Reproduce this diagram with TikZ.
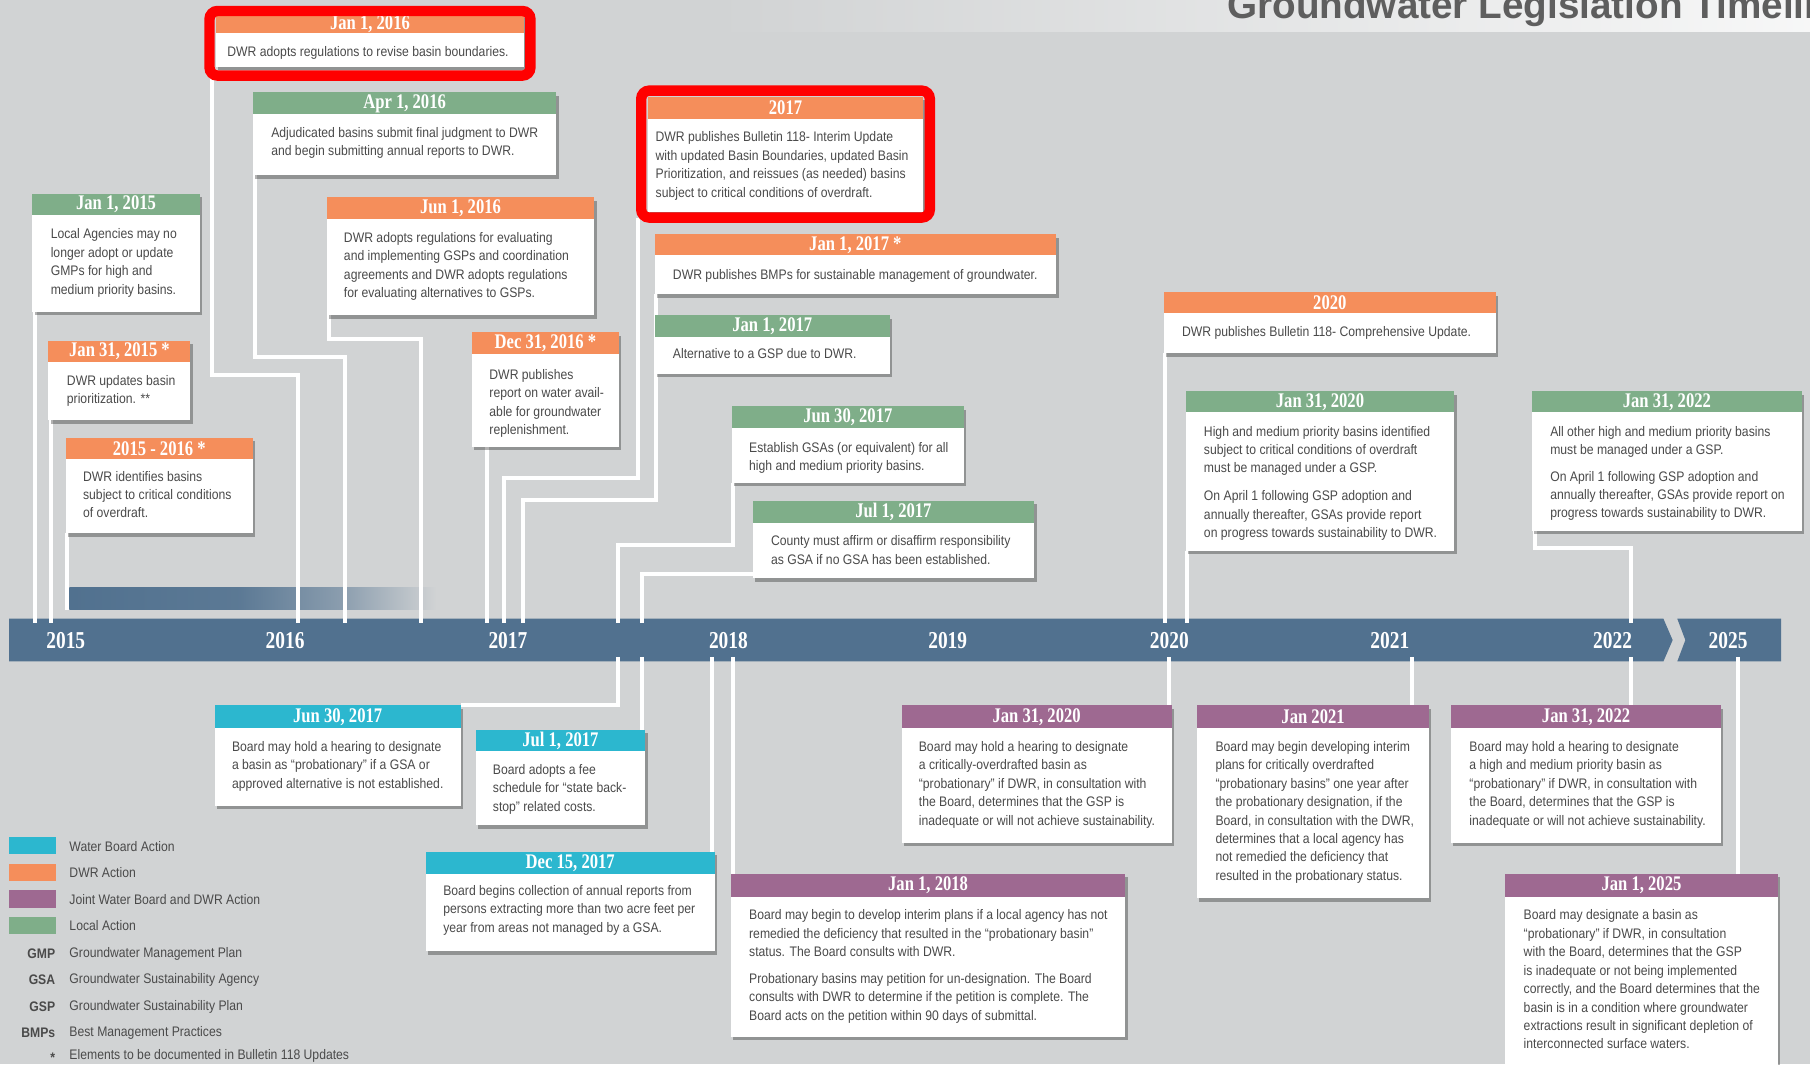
\documentclass[tikz,border=0pt]{standalone}
\usepackage{fontspec}
\usetikzlibrary{shadows}
\newfontfamily\bodyfam{Liberation Sans}[FakeStretch=0.88]
\newfontfamily\headfam{Liberation Serif}[FakeStretch=0.8]
\newfontfamily\titlefam{Liberation Sans}
\definecolor{bgc}{HTML}{D1D3D4}
\definecolor{orng}{HTML}{F58E5B}
\definecolor{grn}{HTML}{7FAE89}
\definecolor{cyn}{HTML}{2CB7CF}
\definecolor{prp}{HTML}{9E6991}
\definecolor{barc}{HTML}{51718F}
\definecolor{txtc}{HTML}{4A4A4A}
\definecolor{ttl}{HTML}{5E5E5E}
\pgfdeclarehorizontalshading{fadebar}{100bp}{color(0bp)=(barc); color(25bp)=(barc); color(48bp)=(barc!92!bgc); color(62bp)=(barc!55!bgc); color(75bp)=(bgc); color(100bp)=(bgc)}
\pgfdeclarelayer{bgl}\pgfdeclarelayer{barl}\pgfdeclarelayer{linel}
\pgfsetlayers{bgl,barl,linel,main}
\tikzset{
 evbody/.style={anchor=north west, fill=white, inner sep=0pt, outer sep=0pt, drop shadow={shadow xshift=2pt, shadow yshift=-3pt, fill=black, opacity=0.3}},
 evhead/.style={anchor=north west, inner sep=0pt, outer sep=0pt, text=white, font=\headfam\bfseries\fontsize{18}{20}\selectfont},
 bodytxt/.style={anchor=north west, inner sep=0pt, outer sep=0pt, align=left, text=txtc, font=\bodyfam\fontsize{12}{16}\selectfont},
 conn/.style={draw=white, line width=3.5pt},
 yearlbl/.style={text=white, font=\headfam\bfseries\fontsize{21}{24}\selectfont, inner sep=0pt},
 redframe/.style={draw=red, line width=9pt, rounded corners=7pt, inner sep=0pt, outer sep=0pt, anchor=north west},
 swatch/.style={anchor=north west, minimum width=40pt, minimum height=15pt, inner sep=0pt},
 legtxt/.style={anchor=west, inner sep=0pt, text=txtc, font=\bodyfam\fontsize{12}{14}\selectfont},
 legab/.style={anchor=east, inner sep=0pt, text=txtc, font=\bodyfam\bfseries\fontsize{12}{14}\selectfont},
}
\newcommand\evbox[8]{%
  \node[evbody, minimum width={(#5-#3)*1pt}, minimum height={(#7-#4)*1pt}] (#1) at (#3,#4) {};
  \node[evhead, fill=#2, minimum width={(#5-#3)*1pt}, minimum height={(#6-#4)*1pt}] (#1h) at (#3,#4) {#8};
}
\begin{document}
\begin{tikzpicture}[x=1pt,y=-1pt]
\useasboundingbox (0,0) rectangle (1568,922);
\begin{pgfonlayer}{bgl}
\fill[bgc] (0,0) rectangle (1568,922);
\shade[left color=bgc, right color=white!82!bgc] (620,0) rectangle (1568,27);
\node[anchor=base west, inner sep=0pt, text=ttl, font=\titlefam\bfseries\fontsize{33.5}{36}\selectfont] (title) at (1063,16) {Groundwater Legislation Timeline};
\end{pgfonlayer}

% timeline bar
\begin{pgfonlayer}{barl}
\fill[barc] (8,536) -- (1441,536) -- (1449,554.5) -- (1441,573) -- (8,573) -- cycle;
\fill[barc] (1453,536) -- (1543,536) -- (1543,573) -- (1453,573) -- (1460,554.5) -- cycle;
\node[anchor=north west, minimum width=318pt, minimum height=19pt, inner sep=0pt, shade, shading=fadebar] (gbar) at (60,509) {};
\end{pgfonlayer}
\coordinate (bartop) at (0,540);
\coordinate (barbot) at (0,569);
\foreach \yr/\xx in {2015/57,2016/247,2017/440,2018/631,2019/821,2020/1013,2021/1204,2022/1397,2025/1497}
  \node[yearlbl] (y\yr) at (\xx,555) {\yr};

% upper boxes
\evbox{b16a}{orng}{187}{13}{454}{29}{58}{Jan 1, 2016}
\node[bodytxt] (b16at) at (197,40) {DWR adopts regulations to revise basin boundaries.};
\evbox{b16b}{grn}{219}{80}{482}{99}{152}{Apr 1, 2016}
\node[bodytxt] (b16bt) at (235,110) {Adjudicated basins submit final judgment to DWR\\and begin submitting annual reports to DWR.};
\evbox{b15a}{grn}{28}{168}{173}{186}{270}{Jan 1, 2015}
\node[bodytxt] (b15at) at (44,198) {Local Agencies may no\\longer adopt or update\\GMPs for high and\\medium priority basins.};
\evbox{b16c}{orng}{283}{171}{515}{190}{273}{Jun 1, 2016}
\node[bodytxt] (b16ct) at (298,201) {DWR adopts regulations for evaluating\\and implementing GSPs and coordination\\agreements and DWR adopts regulations\\for evaluating alternatives to GSPs.};
\evbox{b15b}{orng}{42}{295}{165}{314}{364}{Jan 31, 2015 *}
\node[bodytxt] (b15bt) at (58,325) {DWR updates basin\\prioritization. **};
\evbox{b15c}{orng}{57}{379}{219}{398}{462}{2015 - 2016 *}
\node[bodytxt] (b15ct) at (72,408) {DWR identifies basins\\subject to critical conditions\\of overdraft.};
\evbox{b16d}{orng}{409}{288}{536}{307}{387}{Dec 31, 2016 *}
\node[bodytxt] (b16dt) at (424,320) {DWR publishes\\report on water avail-\\able for groundwater\\replenishment.};
\evbox{b17a}{orng}{561}{84}{800}{103}{184}{2017}
\node[bodytxt] (b17at) at (568,114) {DWR publishes Bulletin 118- Interim Update\\with updated Basin Boundaries, updated Basin\\Prioritization, and reissues (as needed) basins\\subject to critical conditions of overdraft.};
\evbox{b17b}{orng}{567}{203}{915}{221}{255}{Jan 1, 2017 *}
\node[bodytxt] (b17bt) at (583,233) {DWR publishes BMPs for sustainable management of groundwater.};
\evbox{b17c}{grn}{567}{273}{771}{292}{324}{Jan 1, 2017}
\node[bodytxt] (b17ct) at (583,302) {Alternative to a GSP due to DWR.};
\evbox{b17d}{grn}{634}{352}{835}{371}{418}{Jun 30, 2017}
\node[bodytxt] (b17dt) at (649,383) {Establish GSAs (or equivalent) for all\\high and medium priority basins.};
\evbox{b17e}{grn}{652}{434}{896}{453}{501}{Jul 1, 2017}
\node[bodytxt] (b17et) at (668,464) {County must affirm or disaffirm responsibility\\as GSA if no GSA has been established.};
\evbox{b20a}{orng}{1008}{253}{1296}{271}{306}{2020}
\node[bodytxt] (b20at) at (1024,283) {DWR publishes Bulletin 118- Comprehensive Update.};
\evbox{b20b}{grn}{1027}{339}{1260}{357}{477}{Jan 31, 2020}
\node[bodytxt] (b20bt) at (1043,369) {High and medium priority basins identified\\subject to critical conditions of overdraft\\must be managed under a GSP.\\[8pt]On April 1 following GSP adoption and\\annually thereafter, GSAs provide report\\on progress towards sustainability to DWR.};
\evbox{b22a}{grn}{1327}{339}{1561}{357}{460}{Jan 31, 2022}
\node[bodytxt] (b22at) at (1343,369) {All other high and medium priority basins\\must be managed under a GSP.\\[7pt]On April 1 following GSP adoption and\\annually thereafter, GSAs provide report on\\progress towards sustainability to DWR.};

% lower boxes
\evbox{w17a}{cyn}{186}{611}{399}{631}{698}{Jun 30, 2017}
\node[bodytxt] (w17at) at (201,642) {Board may hold a hearing to designate\\a basin as “probationary” if a GSA or\\approved alternative is not established.};
\evbox{w17b}{cyn}{412}{632}{559}{651}{715}{Jul 1, 2017}
\node[bodytxt] (w17bt) at (427,662) {Board adopts a fee\\schedule for “state back-\\stop” related costs.};
\evbox{w17c}{cyn}{369}{738}{619}{757}{824}{Dec 15, 2017}
\node[bodytxt] (w17ct) at (384,767) {Board begins collection of annual reports from\\persons extracting more than two acre feet per\\year from areas not managed by a GSA.};
\evbox{j20}{prp}{781}{611}{1015}{631}{730}{Jan 31, 2020}
\node[bodytxt] (j20t) at (796,642) {Board may hold a hearing to designate\\a critically-overdrafted basin as\\“probationary” if DWR, in consultation with\\the Board, determines that the GSP is\\inadequate or will not achieve sustainability.};
\evbox{j21}{prp}{1037}{611}{1238}{631}{778}{Jan 2021}
\node[bodytxt] (j21t) at (1053,642) {Board may begin developing interim\\plans for critically overdrafted\\“probationary basins” one year after\\the probationary designation, if the\\Board, in consultation with the DWR,\\determines that a local agency has\\not remedied the deficiency that\\resulted in the probationary status.};
\evbox{j22}{prp}{1257}{611}{1491}{631}{730}{Jan 31, 2022}
\node[bodytxt] (j22t) at (1273,642) {Board may hold a hearing to designate\\a high and medium priority basin as\\“probationary” if DWR, in consultation with\\the Board, determines that the GSP is\\inadequate or will not achieve sustainability.};
\evbox{j18}{prp}{633}{757}{975}{777}{898}{Jan 1, 2018}
\node[bodytxt] (j18t) at (649,788) {Board may begin to develop interim plans if a local agency has not\\remedied the deficiency that resulted in the “probationary basin”\\status. The Board consults with DWR.\\[7pt]Probationary basins may petition for un-designation. The Board\\consults with DWR to determine if the petition is complete. The\\Board acts on the petition within 90 days of submittal.};
\evbox{j25}{prp}{1304}{757}{1540}{777}{935}{Jan 1, 2025}
\node[bodytxt] (j25t) at (1320,788) {Board may designate a basin as\\“probationary” if DWR, in consultation\\with the Board, determines that the GSP\\is inadequate or not being implemented\\correctly, and the Board determines that the\\basin is in a condition where groundwater\\extractions result in significant depletion of\\interconnected surface waters.};

% red frames
\node[redframe, minimum width=278pt, minimum height=56pt] (fr1) at (181.5,9.5) {};
\node[redframe, minimum width=250pt, minimum height=110pt] (fr2) at (555.5,78.5) {};

% legend
\node[swatch, fill=cyn] (lg1) at (8,725) {};
\node[swatch, fill=orng] (lg2) at (8,748) {};
\node[swatch, fill=prp] (lg3) at (8,771) {};
\node[swatch, fill=grn] (lg4) at (8,794) {};
\node[legtxt] (lt1) at (60,733) {Water Board Action};
\node[legtxt] (lt2) at (60,756) {DWR Action};
\node[legtxt] (lt3) at (60,779) {Joint Water Board and DWR Action};
\node[legtxt] (lt4) at (60,802) {Local Action};
\node[legab] (la5) at (48,826) {GMP};
\node[legtxt] (lt5) at (60,826) {Groundwater Management Plan};
\node[legab] (la6) at (48,849) {GSA};
\node[legtxt] (lt6) at (60,849) {Groundwater Sustainability Agency};
\node[legab] (la7) at (48,872) {GSP};
\node[legtxt] (lt7) at (60,872) {Groundwater Sustainability Plan};
\node[legab] (la8) at (48,895) {BMPs};
\node[legtxt] (lt8) at (60,895) {Best Management Practices};
\node[legab] (la9) at (48,916) {*};
\node[legtxt] (lt9) at (60,915) {Elements to be documented in Bulletin 118 Updates};

% connectors
\coordinate (k1) at (258,325);
\coordinate (k2) at (299,309);
\coordinate (k3) at (365,294);
\coordinate (k4) at (437,414);
\coordinate (k5) at (453,433);
\coordinate (k6) at (535,472);
\coordinate (k7) at (556,497);
\coordinate (k8) at (1413,475);
\coordinate (k9) at (1506,757);
\coordinate (s1) at ([xshift=2pt]b15a.south west);
\coordinate (s2) at ([xshift=2pt]b15b.south west);
\coordinate (s3) at ([xshift=1pt]b15c.south west);
\coordinate (s4) at ([xshift=2.5pt]fr1.south west);
\coordinate (s5) at ([xshift=2pt]b16b.south west);
\coordinate (s6) at ([xshift=2pt]b16c.south west);
\coordinate (s7) at ([xshift=13pt]b16d.south west);
\coordinate (s8) at ([xshift=-2.5pt]fr2.south west);
\coordinate (s9) at ([xshift=1pt]b17b.south west);
\coordinate (s10) at ([xshift=1pt]b17c.south west);
\coordinate (s11) at ([xshift=1pt]b17d.south west);
\coordinate (s12) at ([yshift=4pt]b17e.south west);
\coordinate (s13) at ([xshift=1pt]b20a.south west);
\coordinate (s14) at ([xshift=1pt]b20b.south west);
\coordinate (s15) at ([xshift=3pt]b22a.south west);
\coordinate (e1) at ([xshift=-2pt]w17c.north east);
\coordinate (e2) at ([xshift=2pt]j18.north west);
\coordinate (e3) at ([xshift=-2pt]j20.north east);
\coordinate (e4) at ([xshift=-15pt]j21.north east);
\begin{pgfonlayer}{linel}
\draw[conn] (s1) -- (s1 |- bartop);
\draw[conn] (s2) -- (s2 |- bartop);
\draw[conn] (s3) -- (s3 |- gbar.south);
\draw[conn] (s4) |- (k1) -- (k1 |- bartop);
\draw[conn] (s5) |- (k2) -- (k2 |- bartop);
\draw[conn] (s6) |- (k3) -- (k3 |- bartop);
\draw[conn] (s7) -- (s7 |- bartop);
\draw[conn] (s8) |- (k4) -- (k4 |- bartop);
\draw[conn] (s9) |- (k5) -- (k5 |- bartop);
\draw[conn] (s10) -- (s10 |- k5);
\draw[conn] (s11) |- (k6) -- (k6 |- bartop);
\draw[conn] (s12) -- (k7) -- (k7 |- bartop);
\draw[conn] (s13) -- (s13 |- bartop);
\draw[conn] (s14) -- (s14 |- bartop);
\draw[conn] (s15) |- (k8) -- (k8 |- bartop);
\draw[conn] (k6 |- barbot) |- (w17a.north east);
\draw[conn] (k7 |- barbot) -- (k7 |- w17b.north);
\draw[conn] (e1 |- barbot) -- (e1);
\draw[conn] (e2 |- barbot) -- (e2);
\draw[conn] (e3 |- barbot) -- (e3);
\draw[conn] (e4 |- barbot) -- (e4);
\draw[conn] (k8 |- barbot) -- (k8 |- j22.north);
\draw[conn] (k9 |- barbot) -- (k9 |- j25.north);
\end{pgfonlayer}
\end{tikzpicture}
\end{document}
